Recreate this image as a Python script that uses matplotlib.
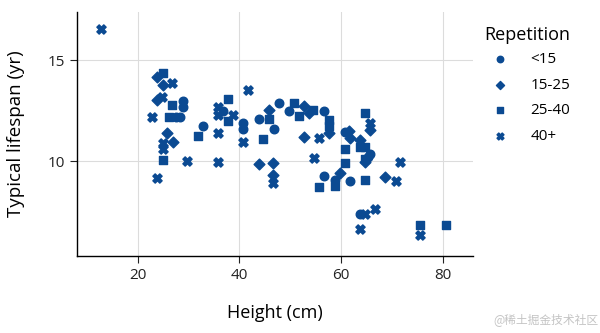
import numpy as np
import matplotlib.pyplot as plt

plt.rcParams['font.family'] = ['Open Sans', 'DejaVu Sans']

color = '#0b4a92'

# <15
h_lt15 = [27.5, 28.3, 28.8, 28.8, 32.9, 36.8, 40.7, 40.7, 43.8, 46.7, 47.8, 49.8,
          56.7, 56.7, 58.8, 60.7, 61.7, 63.7, 65.3, 65.7]
l_lt15 = [12.2, 12.2, 12.97, 12.7, 11.75, 12.5, 11.9, 11.6, 12.1, 11.6, 12.9, 12.5,
          12.47, 9.25, 9.05, 11.45, 9.0, 7.4, 10.2, 10.35]

# 15-25
h_15_25 = [23.8, 24.9, 23.8, 25.8, 27.0, 43.8, 45.8, 46.6, 46.6, 52.7, 53.7, 52.7,
           57.6, 61.5, 61.7, 63.7, 59.8, 64.7, 65.7, 68.6]
l_15_25 = [14.2, 13.8, 13.05, 11.4, 10.97, 9.85, 12.55, 9.9, 9.3, 12.75, 12.4, 11.2,
           11.4, 11.5, 11.15, 11.05, 9.4, 9.95, 11.55, 9.2]

# 25-40
h_25_40 = [24.9, 26.8, 26.2, 31.8, 37.8, 37.8, 24.9, 44.7, 45.8, 50.7, 51.7, 54.5,
           57.6, 57.6, 64.7, 55.7, 58.8, 60.7, 60.7, 63.7, 64.7, 64.7, 64.7, 75.5, 80.6]
l_25_40 = [14.4, 12.8, 12.2, 11.25, 13.1, 12.0, 10.05, 11.1, 12.1, 12.9, 12.25, 12.55,
           12.05, 11.75, 12.4, 8.7, 8.75, 10.6, 9.9, 10.7, 10.7, 10.1, 9.05, 6.85, 6.85]

# 40+
h_40p = [12.7, 26.8, 24.7, 22.7, 35.7, 35.7, 38.7, 41.7, 35.7, 40.7, 24.9, 24.9,
         29.7, 35.8, 23.8, 46.6, 54.6, 55.7, 65.7, 71.6, 70.7, 66.7, 64.7, 63.7, 75.5]
l_40p = [16.55, 13.9, 13.2, 12.2, 12.7, 12.3, 12.3, 13.55, 11.4, 10.95, 10.9, 10.6,
         10.0, 9.95, 9.15, 8.9, 10.15, 11.15, 11.9, 9.95, 9.0, 7.65, 7.4, 6.65, 6.35]

fig = plt.figure(figsize=(6, 3.33), dpi=100)
ax = fig.add_axes([0.128, 0.231, 0.66, 0.733])

ax.scatter(h_lt15, l_lt15, marker='o', s=38, color=color, label='<15', zorder=3)
ax.scatter(h_15_25, l_15_25, marker='D', s=30, color=color, label='15-25', zorder=3)
ax.scatter(h_25_40, l_25_40, marker='s', s=34, color=color, label='25-40', zorder=3)
ax.scatter(h_40p, l_40p, marker='X', s=44, color=color, label='40+', zorder=3)

ax.set_xlim(8, 85.9)
ax.set_ylim(5.3, 17.4)
ax.set_xticks([20, 40, 60, 80])
ax.set_yticks([10, 15])
ax.grid(True, color='#dcdcdc', linewidth=0.8)
ax.set_axisbelow(True)
for s in ['top', 'right']:
    ax.spines[s].set_visible(False)
ax.spines['left'].set_linewidth(1.0)
ax.spines['bottom'].set_linewidth(1.0)
ax.tick_params(direction='out', length=5, labelsize=11, colors='#222222')

ax.set_xlabel('Height (cm)', fontsize=13, labelpad=15)
ax.set_ylabel('Typical lifespan (yr)', fontsize=13.5, labelpad=16)

leg = ax.legend(title='Repetition', loc='upper left', bbox_to_anchor=(0.995, 1.0),
                frameon=False, fontsize=11, title_fontsize=13, handletextpad=1.0,
                labelspacing=0.7, markerscale=0.75)
leg._legend_box.align = 'left'
leg._legend_box.sep = 6

fig.text(0.997, 0.02, '@稀土掘金技术社区', ha='right', va='bottom', fontsize=8.5,
         color='#c4c4c4', family=['Noto Sans CJK SC', 'DejaVu Sans'])

fig.savefig('out.png', dpi=100)
